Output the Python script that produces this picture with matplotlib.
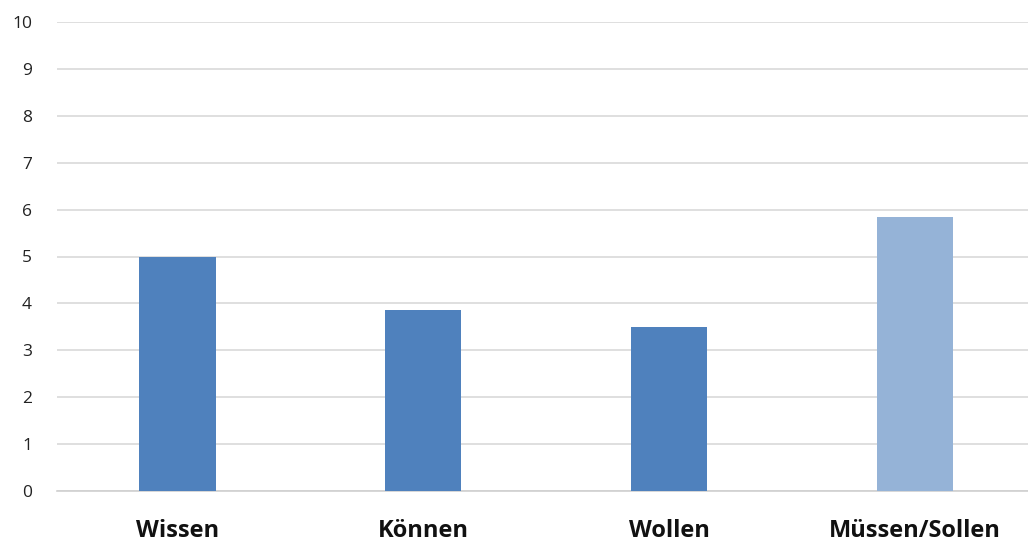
import matplotlib
matplotlib.use("Agg")
import matplotlib.pyplot as plt

categories = ["Wissen", "Können", "Wollen", "Müssen/Sollen"]
values = [5.0, 3.85, 3.5, 5.85]
colors = ["#4F81BD", "#4F81BD", "#4F81BD", "#95B3D7"]
yticks = list(range(0, 11))

plt.rcParams["font.family"] = ["Open Sans", "DejaVu Sans"]

fig = plt.figure(figsize=(10.28, 5.46), dpi=100)
ax = fig.add_axes([57 / 1028, 55 / 546, 1 - 57 / 1028, 469 / 546])

x = range(len(categories))
ax.bar(x, values, width=0.31, color=colors, zorder=3)

ax.set_ylim(0, 10)
ax.set_xlim(-0.49, 3.46)
ax.set_yticks(yticks)
ax.set_yticklabels([str(t) for t in yticks], fontsize=12.5, color="#222222")
ax.set_xticks(list(x))
ax.set_xticklabels(categories, fontsize=17, fontweight="bold", color="#111111")
ax.tick_params(axis="both", length=0)
ax.tick_params(axis="y", pad=18)
ax.tick_params(axis="x", pad=20)
ax.yaxis.grid(True, color="#d9d9d9", lw=1.2, zorder=0)
for s in ["top", "right", "left"]:
    ax.spines[s].set_visible(False)
ax.spines["bottom"].set_color("#d0d0d0")
ax.spines["bottom"].set_linewidth(1.2)

fig.savefig("out.png", dpi=100)
